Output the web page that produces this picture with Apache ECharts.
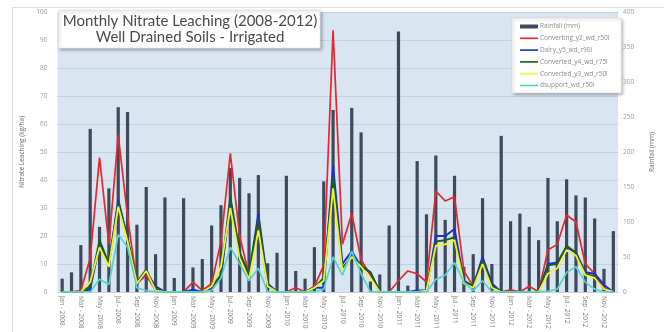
<!DOCTYPE html>
<html>
<head>
<meta charset="utf-8">
<script src="https://cdn.jsdelivr.net/npm/echarts@6/dist/echarts.min.js"></script>
<style>
  html, body { margin: 0; padding: 0; background: #fff; }
  #main { width: 664px; height: 332px; }
</style>
</head>
<body>
<div id="main"></div>
<script>
// month labels
var monthNames = ['Jan','Feb','Mar','Apr','May','Jun','Jul','Aug','Sep','Oct','Nov','Dec'];
var years = ['2008','2009','2010','2011','2012'];
var months = [];
years.forEach(function(y){
	monthNames.forEach(function(m){ months.push(m + ' - ' + y); });
});

// rainfall (mm), right axis
var rainfall = [
	19, 28, 67, 233, 93, 148, 264, 257, 96, 150, 54, 135,
	20, 134, 35, 47, 95, 124, 177, 163, 141, 167, 41, 56,
	166, 30, 19, 64, 158, 260, 0, 263, 228, 15, 25, 95,
	372, 9, 187, 111, 195, 103, 166, 36, 54, 134, 40, 223,
	101, 112, 93, 74, 163, 101, 161, 138, 135, 105, 33, 87
];

// nitrate leaching (kg/ha), left axis
var convertingY2 = [
	0, 0, 0.5, 12, 48, 17, 56, 27, 3, 6, 0.5, 0,
	0, 0, 3.5, 0.5, 3, 18, 49.5, 20, 6, 24, 2, 0,
	0, 1.5, 0, 2, 9.5, 93.5, 17, 28, 11.5, 6, 0, 0,
	4, 7.5, 6.5, 3.5, 36, 32.5, 34, 7.5, 2, 11, 1.5, 0,
	0.8, 0, 2, 0, 15, 17, 27.5, 25, 10, 6.5, 1.5, 0
];
var dairyY5 = [
	0, 0, 0, 1, 17, 9.5, 33, 19, 3, 7, 2, 0,
	0, 0, 0.8, 0, 1.5, 5.5, 32, 14, 6, 28, 3, 0,
	0, 0, 0, 1.5, 1.5, 45, 10, 14.5, 9, 7, 0, 0,
	0, 0, 0.5, 0.5, 20, 20, 22.5, 4, 2, 12.5, 3, 0,
	0, 0, 0, 0, 10, 10.5, 16, 14, 7, 6.5, 2.5, 0
];
var convertedY4 = [
	0, 0, 0, 2, 18.5, 10, 32, 19, 3.5, 8, 1, 0,
	0, 0, 0, 0, 2, 6, 34, 14, 6, 26, 2.5, 0,
	0, 0, 0, 1.5, 5, 41, 8.5, 12.5, 9.5, 7, 0, 0,
	0, 0, 0, 0.5, 18, 18.5, 19.5, 4, 2, 11.5, 2, 0,
	0, 0, 0, 0, 9.5, 10, 16.5, 14, 6.5, 5.5, 1, 0
];
var convertedY3 = [
	0, 0, 0, 3.5, 16, 9, 30.5, 18, 3, 7.5, 0.5, 0,
	0, 0, 0, 0, 2, 9, 30, 12, 4.5, 22, 2, 0,
	0, 0, 0, 1.5, 4, 37, 7.5, 12.5, 9, 5, 0, 0,
	0, 0, 0, 0.5, 16.5, 17, 18.5, 3, 1.5, 10, 1.5, 0,
	0, 0, 0, 0, 6.5, 8.5, 15, 13, 6, 5, 1, 0
];
var dsupport = [
	0, 0, 0, 0, 4.5, 2.7, 20.5, 16, 1.5, 0.5, 0, 0,
	0, 0, 0, 0, 0.5, 5, 16, 10, 4, 8.5, 0, 0,
	0, 0, 0, 0, 1, 12.5, 6, 14.5, 6.5, 0, 0, 0,
	0, 0, 0, 0, 4.5, 6, 10.5, 3.5, 0.5, 4, 0, 0,
	0, 0, 0, 0, 0.2, 1, 7, 9, 3.5, 1, 0, 0
];

var axisTxt = {color:'#9a9a9a', fontSize:6.5, fontFamily:'Open Sans'};
var lineIcon = 'path://M0,0H11V1H0Z';

function lineSeries(name, data, color, width){
	return {
		name: name, type: 'line', yAxisIndex: 0, data: data,
		symbol: 'none', z: 3,
		lineStyle: {color: color, width: width},
		itemStyle: {color: color}
	};
}

var chart = echarts.init(document.getElementById('main'));
chart.setOption({
	backgroundColor: '#fff',
	animation: false,
	graphic: [
		{type:'rect', left:10, top:5, shape:{width:670, height:340},
		 style:{fill:'none', stroke:'#dedede', lineWidth:1}, z:0},
		{type:'rect', left:58, top:10, shape:{width:262, height:38},
		 style:{fill:'#fff', stroke:'#d0d0d0', lineWidth:0.6, shadowBlur:3, shadowOffsetX:1.5, shadowOffsetY:1.5, shadowColor:'rgba(0,0,0,0.35)'}, z:10},
		{type:'text', x:190, y:13, z:11,
		 style:{text:'Monthly Nitrate Leaching (2008-2012)\nWell Drained Soils - Irrigated', align:'center', fill:'#4a4a4a', font:'15px Lato', lineHeight:16}}
	],
	legend: {
		orient: 'vertical', left: 512, top: 18,
		backgroundColor: '#fff', borderColor: '#d6d6d6', borderWidth: 0.6,
		shadowBlur: 3, shadowOffsetX: 1.5, shadowOffsetY: 1.5, shadowColor: 'rgba(0,0,0,0.3)',
		padding: [5, 12, 4, 8], itemWidth: 18, itemHeight: 4, itemGap: 4.8,
		textStyle: {color:'#8a8a8a', fontSize:6.5, fontFamily:'Open Sans', padding:[0,0,0,-3]},
		data: [
			{name:'Rainfall (mm)', icon:'rect'},
			{name:'Converting_y2_wd_r50l', icon:lineIcon},
			{name:'Dairy_y5_wd_r90l', icon:lineIcon},
			{name:'Converted_y4_wd_r75l', icon:lineIcon},
			{name:'Converted_y3_wd_r50l', icon:lineIcon},
			{name:'dsupport_wd_r50l', icon:lineIcon}
		]
	},
	grid: {left: 57.5, right: 26.5, top: 12, bottom: 36, show: true, backgroundColor: '#dae5f2', borderWidth: 0},
	xAxis: {
		type: 'category', data: months, boundaryGap: true,
		axisLine: {show: true, lineStyle:{color:'#c7d2de'}}, axisTick: {show: false},
		axisLabel: {interval: 1, rotate: -90, margin: 4, color:'#7d7d7d', fontSize:6.5, fontFamily:'Open Sans'}
	},
	yAxis: [
		{type:'value', min:0, max:100, interval:10,
		 name:'Nitrate Leaching (kg/ha)', nameLocation:'middle', nameGap:18,
		 nameTextStyle:{color:'#666', fontSize:6.5, fontFamily:'Open Sans'},
		 axisLine:{show:false}, axisTick:{show:false},
		 axisLabel: Object.assign({margin:10}, axisTxt),
		 splitLine:{lineStyle:{color:'#bccbdb', width:0.8}}},
		{type:'value', min:0, max:400, interval:50, position:'right',
		 name:'Rainfall (mm)', nameLocation:'middle', nameGap:31,
		 nameTextStyle:{color:'#666', fontSize:6.5, fontFamily:'Open Sans'},
		 axisLine:{show:false}, axisTick:{show:false},
		 axisLabel: Object.assign({margin:5}, axisTxt),
		 splitLine:{show:false}}
	],
	series: [
		{name:'Rainfall (mm)', type:'bar', yAxisIndex:1, data:rainfall, barWidth:3.2, z:2,
		 itemStyle:{color:'#3d4a5c'}},
		lineSeries('Converting_y2_wd_r50l', convertingY2, '#e8262b', 1.7),
		lineSeries('Dairy_y5_wd_r90l', dairyY5, '#1d2ed8', 2),
		lineSeries('Converted_y4_wd_r75l', convertedY4, '#1b5e22', 2),
		lineSeries('Converted_y3_wd_r50l', convertedY3, '#f2f22c', 1.8),
		lineSeries('dsupport_wd_r50l', dsupport, '#52d4d0', 1.7)
	]
});
</script>
</body>
</html>
